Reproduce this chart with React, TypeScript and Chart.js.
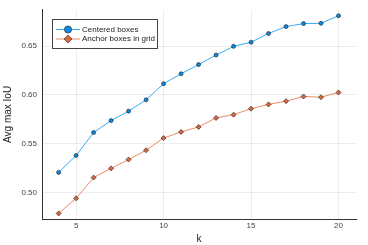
import React, { useEffect, useRef } from "react";
import { Chart, registerables } from "chart.js";

Chart.register(...registerables);

const kValues = [4, 5, 6, 7, 8, 9, 10, 11, 12, 13, 14, 15, 16, 17, 18, 19, 20];
const centeredBoxes = [0.5205, 0.5378, 0.5614, 0.5736, 0.5833, 0.5949, 0.6114, 0.6216, 0.631, 0.6408, 0.6497, 0.654, 0.6629, 0.67, 0.6731, 0.6733, 0.6811];
const anchorBoxes = [0.4784, 0.4939, 0.5152, 0.5246, 0.5337, 0.5432, 0.5557, 0.562, 0.5671, 0.5763, 0.5797, 0.5858, 0.5902, 0.5935, 0.5983, 0.5976, 0.6024];
const xTicks = [5, 10, 15, 20];
const yTicks = [0.5, 0.55, 0.6, 0.65];
const seriesLabels = ["Centered boxes", "Anchor boxes in grid"];

const FONT = "'Liberation Sans', 'DejaVu Sans', sans-serif";
const BLUE_LINE = "#3aaaf5";
const BLUE_FILL = "#0a8ae0";
const ORANGE_LINE = "#ea8a66";
const ORANGE_FILL = "#d9683f";

const legendPlugin = {
  id: "insideLegend",
  afterDraw(chart: any) {
    const ctx = chart.ctx;
    const x0 = 52, y0 = 19, w = 105, h = 29;
    ctx.save();
    ctx.fillStyle = "#ffffff";
    ctx.fillRect(x0, y0, w, h);
    ctx.strokeStyle = "#444444";
    ctx.lineWidth = 1;
    ctx.strokeRect(x0 + 0.5, y0 + 0.5, w, h);
    chart.data.datasets.forEach((ds: any, i: number) => {
      const y = y0 + 10.5 + i * 9.5;
      ctx.strokeStyle = ds.borderColor;
      ctx.lineWidth = 1;
      ctx.beginPath();
      ctx.moveTo(56, y);
      ctx.lineTo(80, y);
      ctx.stroke();
      ctx.fillStyle = ds.pointBackgroundColor;
      ctx.strokeStyle = "#222";
      ctx.lineWidth = 0.6;
      ctx.beginPath();
      if (ds.pointStyle === "rectRot") {
        const r = 4;
        ctx.moveTo(68, y - r);
        ctx.lineTo(68 + r, y);
        ctx.lineTo(68, y + r);
        ctx.lineTo(68 - r, y);
        ctx.closePath();
      } else {
        ctx.arc(68, y, 3.6, 0, Math.PI * 2);
      }
      ctx.fill();
      ctx.stroke();
      ctx.fillStyle = "#222";
      ctx.font = `8px ${FONT}`;
      ctx.textBaseline = "middle";
      ctx.textAlign = "left";
      ctx.fillText(ds.label, 82, y);
    });
    ctx.restore();
  },
};

export default function App() {
  const ref = useRef<HTMLCanvasElement>(null);
  useEffect(() => {
    if (!ref.current) return;
    const chart = new Chart(ref.current, {
      type: "line",
      data: {
        datasets: [
          {
            label: seriesLabels[0],
            data: kValues.map((k, i) => ({ x: k, y: centeredBoxes[i] })),
            borderColor: BLUE_LINE,
            backgroundColor: BLUE_FILL,
            pointBackgroundColor: BLUE_FILL,
            pointBorderColor: "#1a1a1a",
            pointBorderWidth: 0.6,
            pointRadius: 2,
            pointStyle: "circle",
            borderWidth: 1,
            tension: 0,
          },
          {
            label: seriesLabels[1],
            data: kValues.map((k, i) => ({ x: k, y: anchorBoxes[i] })),
            borderColor: ORANGE_LINE,
            backgroundColor: ORANGE_FILL,
            pointBackgroundColor: ORANGE_FILL,
            pointBorderColor: "#1a1a1a",
            pointBorderWidth: 0.6,
            pointRadius: 2.5,
            pointStyle: "rectRot",
            borderWidth: 1,
            tension: 0,
          },
        ],
      },
      plugins: [legendPlugin],
      options: {
        animation: false,
        responsive: false,
        maintainAspectRatio: false,
        layout: { padding: { top: 7, right: 12, left: 0, bottom: 0 } },
        plugins: { legend: { display: false }, tooltip: { enabled: false } },
        scales: {
          x: {
            type: "linear",
            min: 3.05,
            max: 21.0,
            afterBuildTicks: (s: any) => { s.ticks = xTicks.map((v) => ({ value: v })); },
            afterFit: (s: any) => { s.height = 26; },
            ticks: { font: { family: FONT, size: 8 }, color: "#444", padding: 2 },
            grid: { color: "rgba(0,0,0,0.07)", drawTicks: false },
            border: { color: "#333", width: 1 },
            title: { display: true, text: "k", font: { family: FONT, size: 10 }, color: "#222", padding: { top: 3, bottom: 0 } },
          },
          y: {
            type: "linear",
            min: 0.4727,
            max: 0.6872,
            afterBuildTicks: (s: any) => { s.ticks = yTicks.map((v) => ({ value: v })); },
            afterFit: (s: any) => { s.width = 42; },
            ticks: { font: { family: FONT, size: 8 }, color: "#444", padding: 5, callback: (v: any) => Number(v).toFixed(2) },
            grid: { color: "rgba(0,0,0,0.07)", drawTicks: false },
            border: { color: "#333", width: 1 },
            title: { display: true, text: "Avg max IoU", font: { family: FONT, size: 10 }, color: "#222", padding: { top: 2, bottom: 2 } },
          },
        },
      },
    } as any);
    return () => chart.destroy();
  }, []);
  return (
    <div style={{ position: "fixed", left: 0, top: 0, width: 368, height: 245, background: "#fff" }}>
      <canvas ref={ref} width={368} height={245} style={{ width: 368, height: 245 }} />
    </div>
  );
}
